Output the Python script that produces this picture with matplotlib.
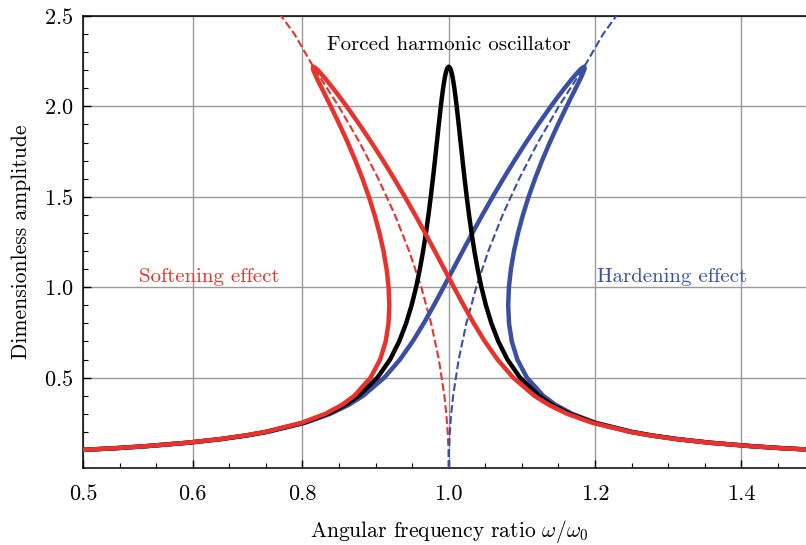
import numpy as np
import matplotlib
matplotlib.use("Agg")
import matplotlib.pyplot as plt

plt.rcParams['font.family'] = 'cmr10'
plt.rcParams['mathtext.fontset'] = 'cm'
plt.rcParams['axes.formatter.use_mathtext'] = True

## data
# amplitude levels along each response curve (from the tail up to the peak)
amp = [0.098, 0.11, 0.12, 0.14, 0.16, 0.18, 0.2, 0.25, 0.3, 0.35, 0.4, 0.5,
       0.6, 0.7, 0.8, 0.9, 1.0, 1.1, 1.2, 1.3, 1.4, 1.5, 1.6, 1.7, 1.8, 1.9,
       2.0, 2.05, 2.1, 2.15, 2.18, 2.2, 2.21, 2.22]

# linear (forced harmonic) oscillator, left and right flank
lin_left = [0.49029, 0.54602, 0.58394, 0.64357, 0.68831, 0.72314, 0.75102, 0.80127,
            0.83486, 0.85893, 0.87704, 0.90257, 0.91977, 0.93222, 0.94170, 0.94921,
            0.95536, 0.96052, 0.96495, 0.96882, 0.97228, 0.97543, 0.97834, 0.98109,
            0.98374, 0.98639, 0.98915, 0.99064, 0.99228, 0.99421, 0.99566, 0.99695,
            0.99785, 1.0]
lin_right = [1.50971, 1.45398, 1.41606, 1.35643, 1.31169, 1.27686, 1.24898, 1.19873,
             1.16514, 1.14107, 1.12296, 1.09743, 1.08023, 1.06778, 1.05830, 1.05079,
             1.04464, 1.03948, 1.03505, 1.03118, 1.02772, 1.02457, 1.02166, 1.01891,
             1.01626, 1.01361, 1.01085, 1.00936, 1.00772, 1.00579, 1.00434, 1.00305,
             1.00215, 1.0]

# hardening: upper branch (left) and the branch folding back (right)
hard_left = [0.49065, 0.54648, 0.58448, 0.64431, 0.68927, 0.72436, 0.75252, 0.80362,
             0.83824, 0.86354, 0.88306, 0.91197, 0.93331, 0.95064, 0.96576, 0.97967,
             0.99296, 1.00602, 1.01909, 1.03236, 1.04598, 1.06003, 1.07460, 1.08975,
             1.10556, 1.12213, 1.13955, 1.14865, 1.15810, 1.16802, 1.17435, 1.17893,
             1.18149, 1.18531]
hard_right = [1.51007, 1.45444, 1.41660, 1.35717, 1.31265, 1.27808, 1.25048, 1.20108,
              1.16852, 1.14568, 1.12898, 1.10683, 1.09377, 1.08620, 1.08236, 1.08125,
              1.08224, 1.08498, 1.08919, 1.09472, 1.10142, 1.10917, 1.11792, 1.12757,
              1.13808, 1.14935, 1.16125, 1.16737, 1.17354, 1.17960, 1.18303, 1.18503,
              1.18579, 1.18531]

# softening: branch folding back (left) and upper branch (right)
soft_left = [0.48993, 0.54556, 0.58340, 0.64283, 0.68735, 0.72192, 0.74952, 0.79892,
             0.83148, 0.85432, 0.87102, 0.89317, 0.90623, 0.91380, 0.91764, 0.91875,
             0.91776, 0.91502, 0.91081, 0.90528, 0.89858, 0.89083, 0.88208, 0.87243,
             0.86192, 0.85065, 0.83875, 0.83263, 0.82646, 0.82040, 0.81697, 0.81497,
             0.81421, 0.81469]
soft_right = [1.50935, 1.45352, 1.41552, 1.35569, 1.31073, 1.27564, 1.24748, 1.19638,
              1.16176, 1.13646, 1.11694, 1.08803, 1.06669, 1.04936, 1.03424, 1.02033,
              1.00704, 0.99398, 0.98091, 0.96764, 0.95402, 0.93997, 0.92540, 0.91025,
              0.89444, 0.87787, 0.86045, 0.85135, 0.84190, 0.83198, 0.82565, 0.82107,
              0.81851, 0.81469]

# backbone curves (dashed): amplitude and distance from omega/omega0 = 1
bb_amp = [0.0, 0.1, 0.2, 0.3, 0.4, 0.6, 0.8, 1.0, 1.2, 1.4, 1.6, 1.8, 2.0, 2.22, 2.4, 2.6]
bb_shift = [0.0, 0.000376, 0.001504, 0.003384, 0.006016, 0.013536, 0.024064, 0.0376,
            0.054144, 0.073696, 0.096256, 0.121824, 0.1504, 0.18531, 0.2110, 0.2470]

xticks = [0.5, 0.65, 0.8, 1.0, 1.2, 1.4]
xticklabels = ['0.5', '0.6', '0.8', '1.0', '1.2', '1.4']
yticks = [0.5, 1.0, 1.5, 2.0, 2.5]

red = '#e8322b'
blue = '#3a4fa3'

## plot
fig = plt.figure(figsize=(8.06, 5.45), dpi=100)
ax = fig.add_axes([83 / 806, 77 / 545, 731.5 / 806, 452 / 545])

a = np.array(amp)
a_loop = np.r_[a, a[::-1]]
bb_a = np.array(bb_amp)
bb_s = np.array(bb_shift)

ax.plot(1 - bb_s, bb_a, '--', color=red, lw=1.5, zorder=3)
ax.plot(1 + bb_s, bb_a, '--', color=blue, lw=1.5, zorder=3)

ax.plot(np.r_[hard_left, hard_right[::-1]], a_loop, color=blue, lw=3.2, zorder=4)
ax.plot(np.r_[lin_left, lin_right[::-1]], a_loop, color='black', lw=3.2, zorder=5)
ax.plot(np.r_[soft_left, soft_right[::-1]], a_loop, color=red, lw=3.2, zorder=6)

ax.text(1.0, 2.34, 'Forced harmonic oscillator', ha='center', va='center', fontsize=15)
ax.text(0.672, 1.056, 'Softening effect', ha='center', va='center', fontsize=15, color=red)
ax.text(1.305, 1.056, 'Hardening effect', ha='center', va='center', fontsize=15, color=blue)

ax.set_xlim(0.5, 1.5)
ax.set_ylim(0, 2.5)
ax.set_xticks(xticks)
ax.set_xticklabels(xticklabels)
ax.set_xticks(np.arange(0.55, 1.5, 0.05), minor=True)
ax.set_yticks(yticks)
ax.set_yticks(np.arange(0.1, 2.45, 0.1), minor=True)

ax.grid(True, which='major', color='#999999', lw=1)
ax.set_axisbelow(True)
ax.tick_params(which='both', direction='in', top=False, right=False, labelsize=16)
ax.tick_params(axis='x', which='both', pad=12)
ax.tick_params(axis='y', which='both', pad=7)
ax.tick_params(which='major', length=6, width=1)
ax.tick_params(which='minor', length=3.5, width=0.8)
for s in ax.spines.values():
    s.set_linewidth(1.1)

ax.set_xlabel(r'Angular frequency ratio $\omega/\omega_0$', fontsize=15.5, labelpad=10)
ax.set_ylabel('Dimensionless amplitude', fontsize=15.5, labelpad=9)

fig.savefig('out.png', dpi=100)
